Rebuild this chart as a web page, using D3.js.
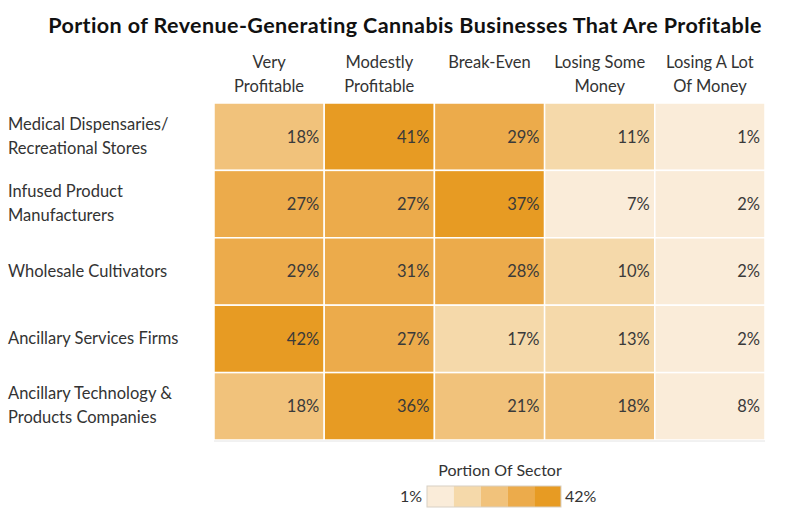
<!DOCTYPE html>
<html>
<head>
<meta charset="utf-8">
<script src="https://cdn.jsdelivr.net/npm/d3@7"></script>
<style>
  body { margin: 0; background: #fff; }
  svg { display: block; font-family: Lato, "Open Sans", sans-serif; }
</style>
</head>
<body>
<div id="heatmap"></div>
<script>
const sectors = [
    "Medical Dispensaries/|Recreational Stores",
    "Infused Product|Manufacturers",
    "Wholesale Cultivators",
    "Ancillary Services Firms",
    "Ancillary Technology &|Products Companies"
];
const outcomes = [
    "Very|Profitable",
    "Modestly|Profitable",
    "Break-Even",
    "Losing Some|Money",
    "Losing A Lot|Of Money"
];
// one row per sector, one value per outcome (percent)
const shares = [
    [18, 41, 29, 11, 1],
    [27, 27, 37, 7, 2],
    [29, 31, 28, 10, 2],
    [42, 27, 17, 13, 2],
    [18, 36, 21, 18, 8]
];
const binColors = ["#faecd9", "#f5d9aa", "#f1c27b", "#ecab4b", "#e79b23"];

const width = 790, height = 521;
const margin = { top: 103, right: 25, bottom: 81, left: 214 };
const innerWidth = width - margin.left - margin.right;
const innerHeight = height - margin.top - margin.bottom;

const cells = [];
sectors.forEach((s, i) => outcomes.forEach((o, j) => cells.push({ sector: s, outcome: o, value: shares[i][j] })));

const xScale = d3.scaleBand().domain(outcomes).range([0, innerWidth]);
const yScale = d3.scaleBand().domain(sectors).range([0, innerHeight]);
const color = d3.scaleQuantize()
    .domain([d3.min(cells, d => d.value), d3.max(cells, d => d.value)])
    .range(binColors);

const svg = d3.select("#heatmap").append("svg")
    .attr("width", width)
    .attr("height", height);

svg.append("text")
    .attr("x", 405)
    .attr("y", 33)
    .attr("text-anchor", "middle")
    .attr("fill", "#111")
    .style("font-size", "21.5px")
    .style("letter-spacing", "0.4px")
    .style("font-weight", "bold")
    .text("Portion of Revenue-Generating Cannabis Businesses That Are Profitable");

const group = svg.append("g")
    .attr("transform", `translate(${margin.left}, ${margin.top})`);

// column headers
group.append("g")
    .selectAll("text")
    .data(outcomes)
    .join("text")
    .attr("x", d => xScale(d) + xScale.bandwidth() / 2)
    .attr("y", -35)
    .attr("text-anchor", "middle")
    .attr("fill", "#333")
    .style("font-size", "16.5px")
    .selectAll("tspan")
    .data(d => d.split("|"))
    .join("tspan")
    .attr("x", function () { return this.parentNode.getAttribute("x"); })
    .attr("dy", (d, i) => i === 0 ? 0 : 24)
    .text(d => d);

// row labels
group.append("g")
    .selectAll("text")
    .data(sectors)
    .join("text")
    .attr("x", 8 - margin.left)
    .attr("y", d => {
        const lines = d.split("|").length;
        return yScale(d) + yScale.bandwidth() / 2 + 5 - (lines - 1) * 12;
    })
    .attr("fill", "#333")
    .style("font-size", "16.5px")
    .selectAll("tspan")
    .data(d => d.split("|"))
    .join("tspan")
    .attr("x", 8 - margin.left)
    .attr("dy", (d, i) => i === 0 ? 0 : 24)
    .text(d => d);

// cells
const cellGroups = group.append("g")
    .selectAll("g")
    .data(cells)
    .join("g")
    .attr("transform", d => `translate(${xScale(d.outcome)}, ${yScale(d.sector)})`);

cellGroups.append("rect")
    .attr("width", xScale.bandwidth())
    .attr("height", yScale.bandwidth())
    .attr("fill", d => color(d.value))
    .attr("stroke", "#fff")
    .attr("stroke-width", 1.5);

cellGroups.append("text")
    .attr("x", xScale.bandwidth() - 5)
    .attr("y", yScale.bandwidth() / 2 + 6)
    .attr("text-anchor", "end")
    .attr("fill", "#3a3a3a")
    .style("font-size", "16.5px")
    .text(d => `${d.value}%`);

group.append("line")
    .attr("x1", 0)
    .attr("x2", innerWidth)
    .attr("y1", innerHeight + 1)
    .attr("y2", innerHeight + 1)
    .attr("stroke", "#e4e4e4")
    .attr("stroke-width", 1);

// legend
const legendScale = d3.scaleBand().domain(binColors).range([427, 561]);
const legend = svg.append("g").attr("class", "legend");

legend.append("text")
    .attr("x", 500)
    .attr("y", 476)
    .attr("text-anchor", "middle")
    .attr("fill", "#333")
    .style("font-size", "16px")
    .text("Portion Of Sector");

legend.selectAll("rect")
    .data(binColors)
    .join("rect")
    .attr("x", d => legendScale(d))
    .attr("y", 486)
    .attr("width", legendScale.bandwidth())
    .attr("height", 21)
    .attr("fill", d => d);

legend.append("rect")
    .attr("x", 427)
    .attr("y", 486)
    .attr("width", 134)
    .attr("height", 21)
    .attr("fill", "none")
    .attr("stroke", "#d8d0c4")
    .attr("stroke-width", 1);

const [lo, hi] = color.domain();
legend.append("text")
    .attr("x", 422)
    .attr("y", 502)
    .attr("text-anchor", "end")
    .attr("fill", "#333")
    .style("font-size", "16px")
    .text(`${lo}%`);

legend.append("text")
    .attr("x", 565)
    .attr("y", 502)
    .attr("fill", "#333")
    .style("font-size", "16px")
    .text(`${hi}%`);
</script>
</body>
</html>
